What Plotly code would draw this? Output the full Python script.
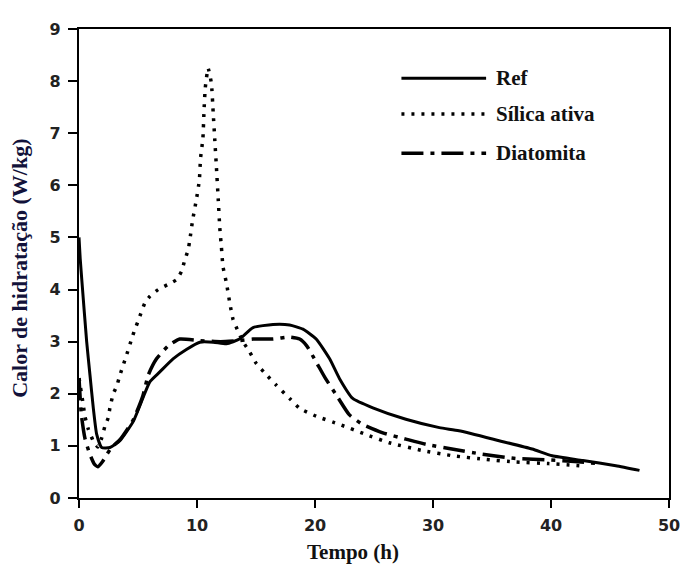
import plotly.graph_objects as go

# ---- data ----
ref_x = [0, 0.1, 0.25, 0.65, 0.93, 1.21, 1.5, 1.92, 2.62, 3.47, 4.6, 5.4, 6.0, 6.85, 7.97, 9.1,
         10.24, 11.4, 12.5, 13.6, 14.75, 16.44, 17.85, 18.98, 20.1, 21.24, 22.08, 23.2, 24.9,
         27.7, 30.54, 32.2, 35.6, 38.4, 40.1, 42.7, 45.5, 47.5]
ref_y = [5.0, 4.6, 4.15, 3.0, 2.36, 1.73, 1.22, 0.97, 0.97, 1.1, 1.47, 1.91, 2.23, 2.42, 2.67, 2.85,
         2.99, 2.99, 2.96, 3.05, 3.27, 3.33, 3.32, 3.24, 3.05, 2.67, 2.29, 1.91, 1.73,
         1.51, 1.35, 1.29, 1.10, 0.94, 0.81, 0.72, 0.62, 0.53]

silica_x = [0, 0.36, 0.5, 0.79, 1.2, 1.6, 1.92, 2.2, 2.48, 2.62, 2.9, 3.19, 3.47, 3.75, 4.04, 4.46,
            4.74, 5.02, 5.3, 5.58, 6.01, 6.71, 7.56, 8.27, 8.69, 8.97, 9.25, 9.39, 9.62, 9.95, 10.2,
            10.3, 10.5, 10.6, 10.7, 10.94, 11.22, 11.37, 11.5, 11.65, 11.8, 11.93, 12.07, 12.2,
            12.5, 12.78, 13.05, 13.48, 13.9, 14.47, 15.03, 15.9, 16.7, 17.85, 18.7, 20.1, 22.1,
            24.3, 26.3, 29.1, 31.7, 34.5, 37.0, 39.8, 42.4]
silica_y = [2.3, 1.79, 1.57, 1.32, 1.1, 0.98, 1.15, 1.38, 1.54, 1.73, 2.0, 2.14, 2.36, 2.55, 2.75, 3.05,
            3.24, 3.40, 3.58, 3.74, 3.87, 4.0, 4.1, 4.19, 4.35, 4.57, 4.76, 4.95, 5.32, 5.73, 6.1,
            6.52, 6.9, 7.46, 7.87, 8.25, 7.96, 7.4, 6.9, 6.33, 5.73, 5.19, 4.81, 4.44,
            4.12, 3.74, 3.43, 3.2, 3.0, 2.8, 2.58, 2.36, 2.17, 1.91, 1.72, 1.57, 1.41,
            1.22, 1.06, 0.91, 0.81, 0.74, 0.69, 0.66, 0.62]

diat_x = [0, 0.2, 0.5, 0.9, 1.3, 1.6, 2.0, 2.4, 2.8, 3.47, 4.6, 5.4, 5.87, 6.57, 7.56, 8.54, 10.2,
          12.0, 13.6, 14.75, 16.44, 17.85, 18.7, 19.3, 20.1, 20.9, 21.8, 22.9, 24.05, 25.75,
          27.7, 29.4, 31.6, 34.2, 37.0, 40.0, 42.0, 44.0]
diat_y = [2.3, 1.6, 1.15, 0.85, 0.65, 0.6, 0.7, 0.85, 0.98, 1.12, 1.5, 1.95, 2.36, 2.67, 2.92, 3.05, 3.02,
          3.0, 3.02, 3.05, 3.05, 3.09, 3.05, 2.92, 2.61, 2.29, 1.98, 1.60, 1.41, 1.25,
          1.13, 1.03, 0.94, 0.84, 0.76, 0.73, 0.70, 0.66]

series_names = ["Ref", "Sílica ativa", "Diatomita"]
x_ticks = [0, 10, 20, 30, 40, 50]
y_ticks = list(range(0, 10))

DOT = "3px,7px"
DASHDOT = "22px,7px,4px,7px"

fig = go.Figure()
fig.add_trace(go.Scatter(x=ref_x, y=ref_y, mode="lines", name=series_names[0],
                         line=dict(color="black", width=3, shape="spline", smoothing=0.5)))
fig.add_trace(go.Scatter(x=silica_x, y=silica_y, mode="lines", name=series_names[1],
                         line=dict(color="black", width=3.5, dash=DOT, shape="spline", smoothing=0.4)))
fig.add_trace(go.Scatter(x=diat_x, y=diat_y, mode="lines", name=series_names[2],
                         line=dict(color="black", width=3.5, dash=DASHDOT, shape="spline", smoothing=0.5)))

tickfont = dict(family="DejaVu Sans", size=16, color="#222222", weight="bold")
fig.update_xaxes(range=[0, 50], tickvals=x_ticks, ticks="outside", ticklen=8, tickwidth=1.5,
                 tickcolor="black", showline=True, linecolor="black", linewidth=2.2, mirror=True,
                 showgrid=False, zeroline=False, tickfont=tickfont, ticklabelstandoff=4)
fig.update_yaxes(range=[0, 9], tickvals=y_ticks, ticks="outside", ticklen=9, tickwidth=1.5,
                 tickcolor="black", showline=True, linecolor="black", linewidth=2.2, mirror=True,
                 showgrid=False, zeroline=False, tickfont=tickfont, ticklabelstandoff=4)

serif = "Liberation Serif"
anns = [
    dict(text="<b>Tempo (h)</b>", x=0.4636, y=-0.115, xref="paper", yref="paper",
         showarrow=False, xanchor="center", yanchor="middle",
         font=dict(family=serif, size=21, color="#111111")),
    dict(text="<b>Calor de hidratação (W/kg)</b>", x=-0.0998, y=0.489, xref="paper", yref="paper",
         showarrow=False, xanchor="center", yanchor="middle", textangle=-90,
         font=dict(family=serif, size=22, color="#12123a")),
]
# custom legend
leg_y = [0.895, 0.819, 0.735]
leg_dash = ["solid", DOT, DASHDOT]
leg_w = [3, 3.5, 3.5]
shapes = []
for name, yy, d, w in zip(series_names, leg_y, leg_dash, leg_w):
    shapes.append(dict(type="line", xref="paper", yref="paper", x0=0.5465, x1=0.690, y0=yy, y1=yy,
                       line=dict(color="black", width=w, dash=d)))
    anns.append(dict(text="<b>" + name + "</b>", x=0.704, y=yy, xref="paper", yref="paper",
                     showarrow=False, xanchor="left", yanchor="middle",
                     font=dict(family=serif, size=21, color="#111111")))

# page body has an 8px margin, so the figure is sized/offset to compensate
fig.update_layout(width=684, height=559, margin=dict(l=71, r=22, t=14, b=69),
                  paper_bgcolor="white", plot_bgcolor="white", showlegend=False,
                  annotations=anns, shapes=shapes)

fig.write_html("out.html")
